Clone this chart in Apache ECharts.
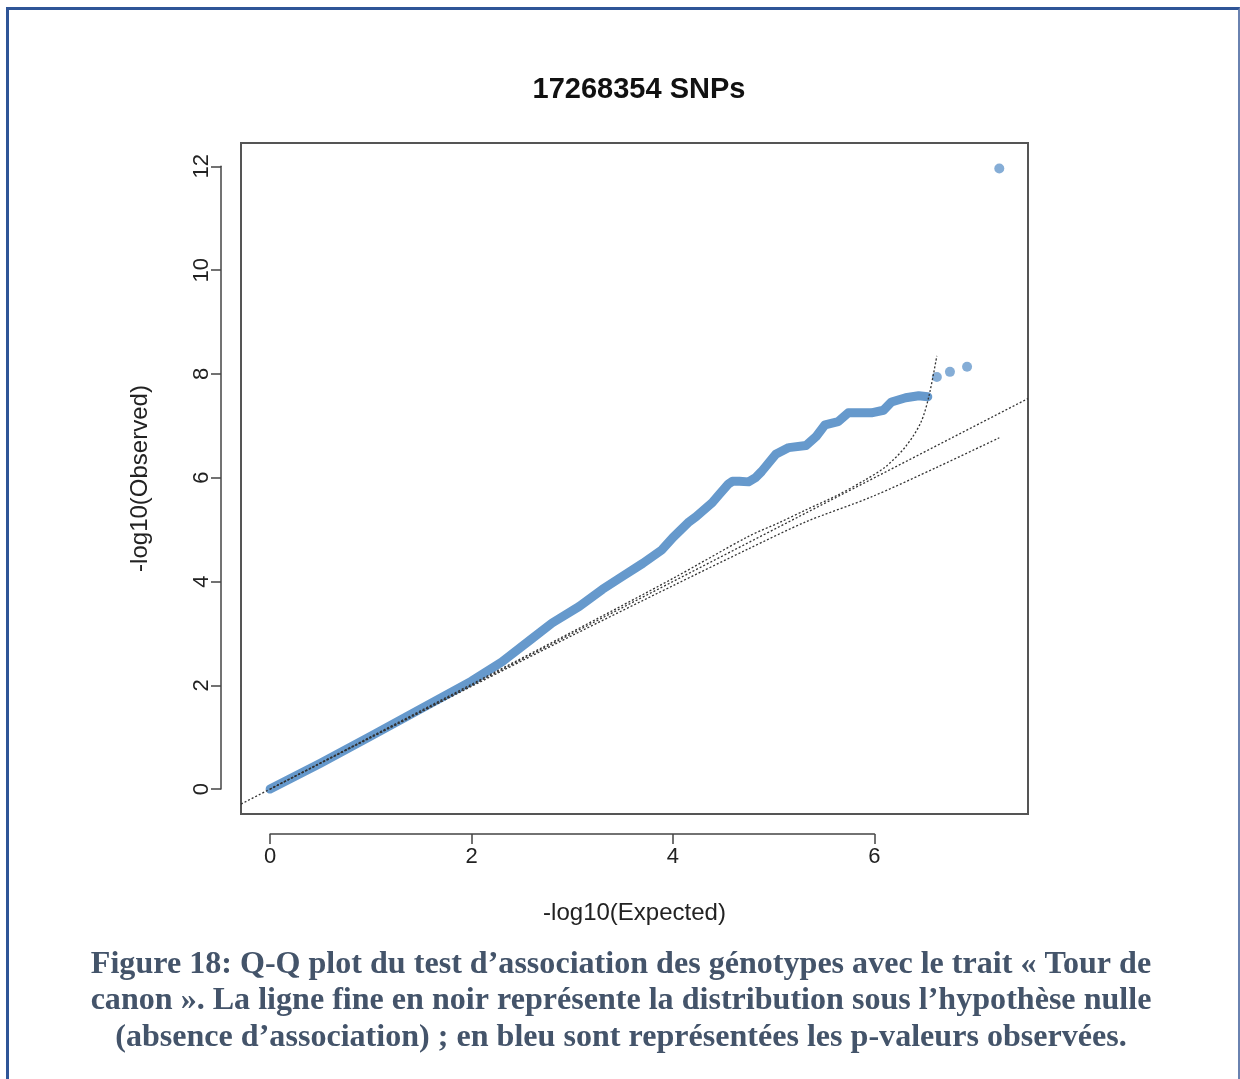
<!DOCTYPE html>
<html>
<head>
<meta charset="utf-8">
<script src="https://cdn.jsdelivr.net/npm/echarts@6/dist/echarts.min.js"></script>
<style>
  html, body { margin: 0; padding: 0; background: #fff; }
  #main { width: 1240px; height: 1079px; position: absolute; left: 0; top: 0; }
  #frame {
    position: absolute; left: 6px; top: 7px; width: 1229px; height: 1100px;
    border-top: 3px solid #2f5597; border-left: 3px solid #2f5597;
    border-right: 2px solid #6a82b0; pointer-events: none;
  }
</style>
</head>
<body>
<div id="main"></div>
<div id="frame"></div>
<script>
// expected vs observed -log10(p)
var obsX = [0, 0.5, 1.0, 1.5, 2.0, 2.3, 2.6, 2.8, 3.07, 3.3, 3.5, 3.7, 3.89, 4.0, 4.16, 4.23, 4.39, 4.46,
  4.55, 4.59, 4.66, 4.75, 4.82, 4.88, 5.02, 5.15, 5.32, 5.42, 5.51, 5.64, 5.74, 5.85, 5.97, 6.09,
  6.17, 6.31, 6.44, 6.53];
var obsY = [0, 0.5, 1.02, 1.55, 2.08, 2.45, 2.9, 3.2, 3.52, 3.85, 4.10, 4.35, 4.61, 4.85, 5.15, 5.25, 5.52, 5.68,
  5.88, 5.93, 5.93, 5.92, 6.0, 6.12, 6.45, 6.58, 6.62, 6.79, 7.02, 7.08, 7.25, 7.25, 7.25, 7.30,
  7.46, 7.54, 7.58, 7.56];
// last few isolated points
var tailX = [6.62, 6.75, 6.92, 7.24];
var tailY = [7.94, 8.04, 8.14, 11.96];

// confidence band (dotted)
var ciUpX = [0, 1, 2, 3, 4, 4.75, 5.05, 5.32, 5.64, 5.91, 6.11, 6.31, 6.46, 6.54, 6.62];
var ciUpY = [0, 1.01, 2.02, 3.03, 4.06, 4.87, 5.13, 5.38, 5.67, 5.96, 6.21, 6.60, 7.06, 7.56, 8.35];
var ciLoX = [0, 1, 2, 3, 4, 4.75, 5.32, 5.97, 6.63, 7.24];
var ciLoY = [0, 0.99, 1.98, 2.96, 3.92, 4.63, 5.15, 5.63, 6.21, 6.77];

var xTicks = [0, 2, 4, 6];
var yTicks = [0, 2, 4, 6, 8, 10, 12];

var xMin = -0.289, xMax = 7.525;
var yMin = -0.48, yMax = 12.45;

// plot box in px
var boxL = 241, boxT = 143, boxW = 787, boxH = 671;
var pxX = boxW / (xMax - xMin);
var pxY = boxH / (yMax - yMin);

function zip(a, b) {
  var out = [];
  for (var i = 0; i < a.length; i++) out.push([a[i], b[i]]);
  return out;
}

var chart = echarts.init(document.getElementById('main'), null, { renderer: 'canvas' });

var dotted = { color: '#333', width: 1.3, type: [2, 2] };
var hidden = { axisLine: { show: false }, axisTick: { show: false }, axisLabel: { show: false }, splitLine: { show: false } };
var nameFont = { fontFamily: 'Liberation Sans', fontSize: 24, color: '#222' };

var option = {
  animation: false,
  title: [
    {
      text: '17268354 SNPs',
      left: 634, top: 70, textAlign: 'center',
      textStyle: { fontFamily: 'Liberation Sans', fontWeight: 'bold', fontSize: 29, color: '#111' }
    },
    {
      text: 'Figure 18: Q-Q plot du test d\u2019association des génotypes avec le trait « Tour de\n' +
        'canon ». La ligne fine en noir représente la distribution sous l\u2019hypothèse nulle\n' +
        '(absence d\u2019association) ; en bleu sont représentées les p-valeurs observées.',
      left: 616, top: 941, textAlign: 'center',
      textStyle: { fontFamily: 'Liberation Serif', fontWeight: 'bold', fontSize: 32.1, lineHeight: 36.5, color: '#44546a' }
    }
  ],
  grid: [
    { left: boxL, top: boxT, width: boxW, height: boxH, show: true, borderColor: '#555', borderWidth: 2, backgroundColor: 'transparent' },
    { left: boxL + (xTicks[0] - xMin) * pxX, top: 833, width: (xTicks[xTicks.length - 1] - xTicks[0]) * pxX, height: 1 },
    { left: 221, top: boxT + (yMax - yTicks[yTicks.length - 1]) * pxY, width: 1, height: (yTicks[yTicks.length - 1] - yTicks[0]) * pxY }
  ],
  xAxis: [
    Object.assign({
      gridIndex: 0, type: 'value', min: xMin, max: xMax,
      name: '-log10(Expected)', nameLocation: 'middle', nameGap: 87, nameTextStyle: nameFont
    }, hidden),
    {
      gridIndex: 1, type: 'value', min: xTicks[0], max: xTicks[xTicks.length - 1], interval: 2, position: 'bottom',
      axisLine: { show: true, lineStyle: { color: '#444', width: 1.5 } },
      axisTick: { show: true, length: 10, lineStyle: { color: '#444', width: 1.5 } },
      axisLabel: { fontFamily: 'Liberation Sans', fontSize: 22, color: '#222', margin: 12 },
      splitLine: { show: false }
    },
    { gridIndex: 2, type: 'value', min: 0, max: 1, show: false }
  ],
  yAxis: [
    Object.assign({
      gridIndex: 0, type: 'value', min: yMin, max: yMax,
      name: '-log10(Observed)', nameLocation: 'middle', nameGap: 89, nameRotate: 90, nameTextStyle: nameFont
    }, hidden),
    { gridIndex: 1, type: 'value', min: 0, max: 1, show: false },
    {
      gridIndex: 2, type: 'value', min: yTicks[0], max: yTicks[yTicks.length - 1], interval: 2, position: 'left',
      axisLine: { show: true, lineStyle: { color: '#444', width: 1.5 } },
      axisTick: { show: true, length: 10, lineStyle: { color: '#444', width: 1.5 } },
      axisLabel: { fontFamily: 'Liberation Sans', fontSize: 22, color: '#222', margin: 8, rotate: 90 },
      splitLine: { show: false }
    }
  ],
  series: [
    {
      type: 'line', xAxisIndex: 0, yAxisIndex: 0, z: 2,
      data: zip(obsX, obsY), showSymbol: false, smooth: false,
      lineStyle: { color: '#6699cc', width: 9, cap: 'round', join: 'round' }
    },
    {
      type: 'scatter', xAxisIndex: 0, yAxisIndex: 0, z: 2,
      data: zip(tailX, tailY), symbolSize: 10,
      itemStyle: { color: '#6699cc' }
    },
    {
      type: 'line', xAxisIndex: 0, yAxisIndex: 0, z: 3,
      data: [[xMin, xMin], [xMax, xMax]], showSymbol: false, lineStyle: dotted
    },
    {
      type: 'line', xAxisIndex: 0, yAxisIndex: 0, z: 3,
      data: zip(ciUpX, ciUpY), showSymbol: false, smooth: 0.3, lineStyle: dotted
    },
    {
      type: 'line', xAxisIndex: 0, yAxisIndex: 0, z: 3,
      data: zip(ciLoX, ciLoY), showSymbol: false, smooth: 0.3, lineStyle: dotted
    }
  ]
};

chart.setOption(option);
</script>
</body>
</html>
